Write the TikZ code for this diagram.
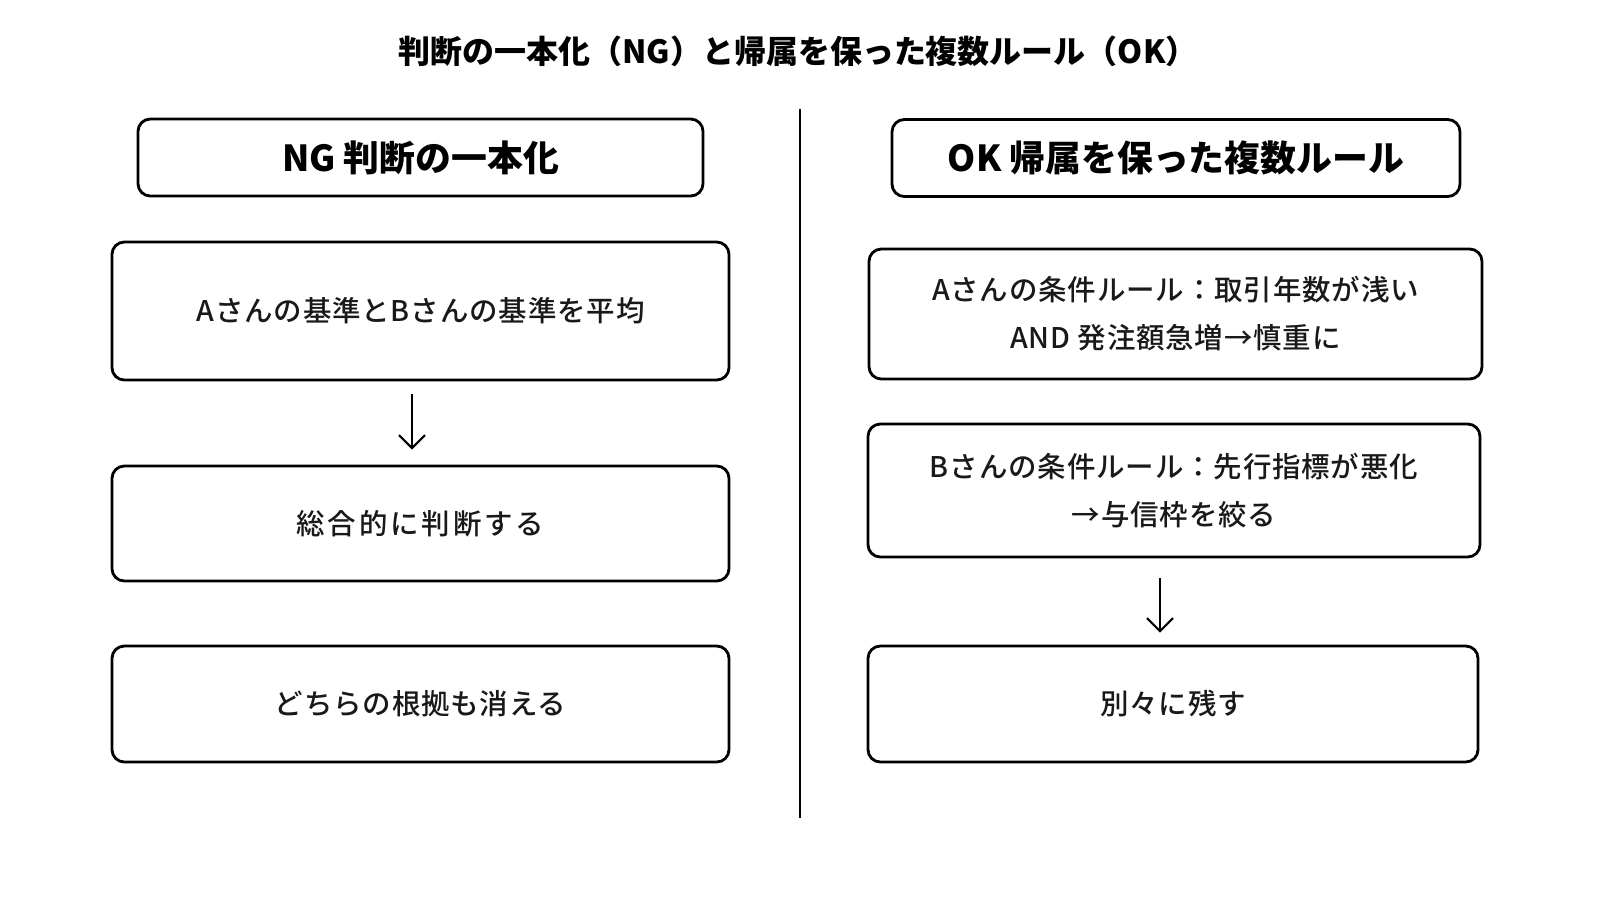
\documentclass[tikz,border=0pt]{standalone}
\usepackage{fontspec}
\setmainfont{Noto Sans CJK JP}
\newfontfamily\medfont{Noto Sans CJK JP Medium}
\usetikzlibrary{arrows.meta}

\begin{document}
\begin{tikzpicture}[
    box/.style={draw, line width=0.8pt, rounded corners=3.5pt, align=center,
        text=black!90, font=\medfont\fontsize{8.1}{13.7}\selectfont\addfontfeature{LetterSpace=3}},
    headbox/.style={draw, line width=0.8pt, rounded corners=3.5pt,
        minimum height=0.77cm, font=\fontsize{10.2}{12}\selectfont\bfseries},
    arr/.style={-{Straight Barb[length=1.3mm, width=2.6mm]}, line width=0.6pt}
]
        % Canvas
        \useasboundingbox (0,0) rectangle (16,-9);
        \fill[white] (0,0) rectangle (16,-9);

        % Title
        \node[font=\fontsize{9.1}{10}\selectfont\bfseries] (title) at (7.98,-0.51)
            {判断の一本化（NG）と帰属を保った複数ルール（OK）};

        % Divider
        \coordinate (divtop) at (8,-1.09);
        \coordinate (divbot) at (8,-8.18);
        \draw[line width=0.6pt] (divtop) -- (divbot);

        % Column heads
        \node[headbox, minimum width=5.65cm] (nghead) at (4.205,-1.575) {NG 判断の一本化};
        \node[headbox, minimum width=5.68cm] (okhead) at (11.76,-1.58) {OK 帰属を保った複数ルール};

        % NG side
        \node[box, minimum width=6.17cm, minimum height=1.38cm] (ng1) at (4.205,-3.11)
            {Aさんの基準とBさんの基準を平均};
        \node[box, minimum width=6.17cm, minimum height=1.15cm] (ng2) at (4.205,-5.235)
            {\addfontfeature{LetterSpace=10}総合的に判断する};
        \node[box, minimum width=6.17cm, minimum height=1.16cm] (ng3) at (4.205,-7.04)
            {どちらの根拠も消える};

        % OK side
        \node[box, minimum width=6.13cm, minimum height=1.30cm] (ok1) at (11.755,-3.14)
            {Aさんの条件ルール：取引年数が浅い\\AND 発注額急増→慎重に};
        \node[box, minimum width=6.12cm, minimum height=1.33cm] (ok2) at (11.74,-4.905)
            {Bさんの条件ルール：先行指標が悪化\\→与信枠を絞る};
        \node[box, minimum width=6.10cm, minimum height=1.16cm] (ok3) at (11.73,-7.04)
            {別々に残す};

        % Arrows
        \draw[arr, shorten <=1.3mm, shorten >=1.5mm] (4.12,0 |- ng1.south) -- (4.12,0 |- ng2.north);
        \draw[arr, shorten <=2mm, shorten >=1.2mm] (11.6,0 |- ok2.south) -- (11.6,0 |- ok3.north);
\end{tikzpicture}
\end{document}
